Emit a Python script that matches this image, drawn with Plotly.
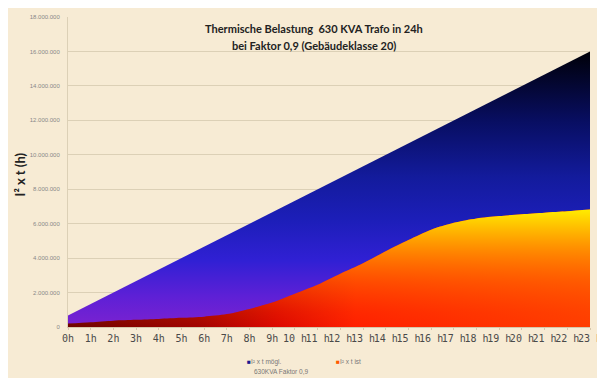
import plotly.graph_objects as go

hours = ["0h", "1h", "2h", "3h", "4h", "5h", "6h", "7h", "8h", "9h", "10 h", "11 h",
         "12 h", "13 h", "14 h", "15 h", "16 h", "17 h", "18 h", "19 h", "20 h", "21 h", "22 h", "23 h"]

i2t_moeglich = [667000, 1333000, 2000000, 2667000, 3333000, 4000000, 4667000, 5333000,
                6000000, 6667000, 7333000, 8000000, 8667000, 9333000, 10000000, 10667000,
                11333000, 12000000, 12667000, 13333000, 14000000, 14667000, 15333000, 16000000]

i2t_ist = [200000, 280000, 370000, 420000, 470000, 530000, 600000, 750000,
           1050000, 1420000, 1930000, 2450000, 3090000, 3700000, 4400000, 5050000,
           5650000, 6050000, 6300000, 6440000, 6550000, 6640000, 6720000, 6820000]

title_lines = ["Thermische Belastung  630 KVA Trafo in 24h", "bei Faktor 0,9 (Gebäudeklasse 20)"]
y_title = "I² x t (h)"
legend_names = ["I² x t mögl.", "I² x t ist", "630KVA Faktor 0,9"]

W, H = 605, 378
OFF = 8  # page body margin offset in the screenshot
# plot area in screen pixels
SX0, SX1, SY0, SY1 = 68, 590, 14, 327
L, T = SX0 - OFF, SY0 - OFF
R, B = W - (SX1 - OFF), H - (SY1 - OFF)
pw, ph = SX1 - SX0, SY1 - SY0

def px(x):
    return (x - SX0) / pw

def py(y):
    return (SY1 - y) / ph

fig = go.Figure()

fig.add_trace(go.Scatter(
    x=hours, y=i2t_moeglich, mode="lines", fill="tozeroy", line=dict(width=0),
    fillgradient=dict(type="vertical", start=0, stop=16000000,
                      colorscale=[[0, "#7e22d0"], [0.12, "#5e20d6"], [0.25, "#3020d4"],
                                  [0.4, "#1c1eb8"], [0.55, "#131b9c"], [0.75, "#080e62"],
                                  [1, "#000008"]]),
    showlegend=False, hoverinfo="skip"))

fig.add_trace(go.Scatter(
    x=hours, y=i2t_ist, mode="lines", fill="tozeroy", line=dict(width=0, shape="spline", smoothing=0.8),
    fillgradient=dict(type="horizontal",
                      colorscale=[[0, "#6a0000"], [0.25, "#a00000"], [0.4, "#dc0600"],
                                  [0.55, "#ff1e00"], [1, "#ff3c00"]]),
    showlegend=False, hoverinfo="skip"))

fig.add_trace(go.Scatter(
    x=hours, y=i2t_ist, mode="lines", fill="tozeroy", line=dict(width=0, shape="spline", smoothing=0.8),
    fillgradient=dict(type="vertical", start=0, stop=6900000,
                      colorscale=[[0, "rgba(255,100,0,0)"], [0.15, "rgba(255,100,0,0.15)"],
                                  [0.4, "rgba(255,120,0,0.5)"], [0.7, "rgba(255,160,0,0.88)"],
                                  [1, "rgba(255,235,0,1)"]]),
    showlegend=False, hoverinfo="skip"))

annotations = [
    dict(text="<b>" + title_lines[0] + "</b>", x=px(314), y=py(26), xref="paper", yref="paper",
         showarrow=False, xanchor="center", yanchor="middle",
         font=dict(family="Lato", size=11, color="#222")),
    dict(text="<b>" + title_lines[1] + "</b>", x=px(314), y=py(43), xref="paper", yref="paper",
         showarrow=False, xanchor="center", yanchor="middle",
         font=dict(family="Lato", size=11, color="#222")),
    dict(text="<b>" + y_title + "</b>", x=px(20), y=py(173), xref="paper", yref="paper",
         showarrow=False, textangle=-90, xanchor="center", yanchor="middle",
         font=dict(family="Lato", size=13, color="#222")),
    dict(text="<span style='color:#1a1a90'>■</span>" + legend_names[0], x=px(246), y=py(362),
         xref="paper", yref="paper", showarrow=False, xanchor="left", yanchor="middle",
         borderpad=0, font=dict(family="Liberation Sans", size=6.5, color="#777")),
    dict(text="<span style='color:#ff5a00'>■</span>" + legend_names[1], x=px(335), y=py(362),
         xref="paper", yref="paper", showarrow=False, xanchor="left", yanchor="middle",
         borderpad=0, font=dict(family="Liberation Sans", size=6.5, color="#777")),
    dict(text=legend_names[2], x=px(253), y=py(372),
         xref="paper", yref="paper", showarrow=False, xanchor="left", yanchor="middle",
         borderpad=0, font=dict(family="Liberation Sans", size=6.5, color="#777")),
]

fig.update_layout(
    width=W, height=H,
    margin=dict(l=L, r=R, t=T, b=B),
    paper_bgcolor="#f7ebd4", plot_bgcolor="rgba(0,0,0,0)",
    separators=",.",
    showlegend=False,
    annotations=annotations,
    xaxis=dict(type="category", range=[0, 23], showgrid=False, showline=True,
               linecolor="#d6c8ac", linewidth=1, ticks="outside", ticklen=2,
               tickcolor="#d6c8ac", tickangle=0, zeroline=False,
               tickfont=dict(family="DejaVu Sans Mono", size=10, color="#4a4a4a")),
    yaxis=dict(range=[0, 18000000], dtick=2000000, tickformat=",d", showgrid=True,
               gridcolor="#dcd0b6", gridwidth=1, showline=True, linecolor="#dcd0b6",
               zeroline=False, ticks="", ticklabelstandoff=6,
               tickfont=dict(family="Liberation Sans", size=6, color="#888")),
)

fig.write_html("out.html", config={"displayModeBar": False},
               post_script="document.documentElement.style.overflow='hidden';document.body.style.overflow='hidden';")
